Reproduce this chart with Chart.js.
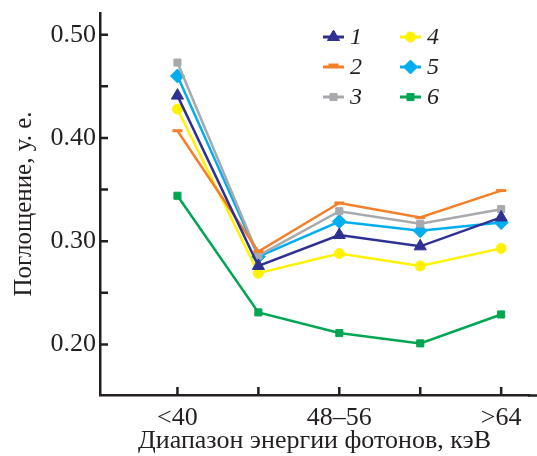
<!DOCTYPE html>
<html>
<head>
<meta charset="utf-8">
<script src="https://cdn.jsdelivr.net/npm/chart.js@4/dist/chart.umd.min.js"></script>
<style>
  html, body { margin: 0; padding: 0; background: #fff; }
  #wrap { width: 537px; height: 456px; }
</style>
</head>
<body>
<div id="wrap"><canvas id="chart" width="537" height="456"></canvas></div>
<script>
// категории по оси X (диапазоны энергии), подписаны только 1-я, 3-я и 5-я
const categories = ['<40', '40–48', '48–56', '56–64', '>64'];
const xTickLabels = ['<40', '', '48–56', '', '>64'];
const yTicks = [0.20, 0.25, 0.30, 0.35, 0.40, 0.45, 0.50];
const yTickLabels = ['0.20', '', '0.30', '', '0.40', '', '0.50'];

const seriesNames = ['1', '2', '3', '4', '5', '6'];
const s1 = [0.441, 0.276, 0.306, 0.295, 0.323];
const s2 = [0.407, 0.290, 0.337, 0.323, 0.349];
const s3 = [0.473, 0.286, 0.329, 0.317, 0.331];
const s4 = [0.428, 0.269, 0.288, 0.276, 0.293];
const s5 = [0.460, 0.285, 0.319, 0.310, 0.318];
const s6 = [0.344, 0.231, 0.211, 0.201, 0.229];

const colors = ['#2e3192', '#f47f2a', '#a7a9ac', '#fff200', '#00aeef', '#00a651'];
const markers = ['triangle', 'line', 'rect', 'circle', 'rectRot', 'rect'];
const markerSize = [7, 5, 5, 5, 7, 5];

const axisColor = '#231f20';
const serif = '"Liberation Serif", "Times New Roman", serif';

const allSeries = [s1, s2, s3, s4, s5, s6];
const datasets = allSeries.map((vals, i) => ({
  label: seriesNames[i],
  data: vals.map((v, k) => ({ x: k, y: v })),
  borderColor: colors[i],
  backgroundColor: colors[i],
  borderWidth: 2.5,
  pointStyle: markers[i],
  pointRadius: markerSize[i],
  pointBorderWidth: markers[i] === 'line' ? 3 : 1,
  pointBorderColor: colors[i],
  pointBackgroundColor: colors[i],
  tension: 0,
  fill: false
}));

// короткие засечки внутрь области графика + ось X до края
const innerTicks = {
  id: 'innerTicks',
  afterDraw(chart) {
    const ctx = chart.ctx;
    const xs = chart.scales.x, ys = chart.scales.y;
    const area = chart.chartArea;
    ctx.save();
    ctx.strokeStyle = axisColor;
    ctx.lineWidth = 2.5;
    ctx.beginPath();
    xs.ticks.forEach(t => {
      const px = xs.getPixelForValue(t.value);
      ctx.moveTo(px, area.bottom);
      ctx.lineTo(px, area.bottom - 8);
    });
    ys.ticks.forEach(t => {
      const py = ys.getPixelForValue(t.value);
      ctx.moveTo(area.left, py);
      ctx.lineTo(area.left + 8, py);
    });
    ctx.moveTo(area.right - 1, area.bottom + 0.5);
    ctx.lineTo(chart.width, area.bottom + 0.5);
    ctx.stroke();
    ctx.restore();
  }
};

// легенда в две колонки: линия + маркер + курсивный номер
const lineLegend = {
  id: 'lineLegend',
  afterDraw(chart) {
    const ctx = chart.ctx;
    const cols = [323, 400];
    const rows = [37, 67, 97];
    ctx.save();
    chart.data.datasets.forEach((ds, i) => {
      const x0 = cols[Math.floor(i / 3)];
      const y0 = rows[i % 3];
      ctx.strokeStyle = ds.borderColor;
      ctx.fillStyle = ds.backgroundColor;
      ctx.lineWidth = 3;
      ctx.beginPath();
      ctx.moveTo(x0, y0);
      ctx.lineTo(x0 + 21, y0);
      ctx.stroke();
      ctx.lineWidth = ds.pointBorderWidth;
      Chart.helpers.drawPoint(ctx, {
        pointStyle: ds.pointStyle,
        radius: ds.pointRadius,
        borderWidth: ds.pointBorderWidth,
        rotation: 0
      }, x0 + 10.5, ds.pointStyle === 'line' ? y0 - 2 : y0);
      ctx.fillStyle = '#231f20';
      ctx.font = 'italic 24px ' + serif;
      ctx.textBaseline = 'middle';
      ctx.textAlign = 'left';
      ctx.fillText(ds.label, x0 + 27, y0 + 1);
    });
    ctx.restore();
  }
};

new Chart(document.getElementById('chart'), {
  type: 'line',
  data: { datasets },
  plugins: [innerTicks, lineLegend],
  options: {
    responsive: false,
    animation: false,
    layout: { padding: { top: 13, right: 0, left: 0, bottom: 0 } },
    plugins: { legend: { display: false }, tooltip: { enabled: false } },
    scales: {
      x: {
        type: 'linear',
        min: -0.957,
        max: 4.344,
        afterFit: s => { s.height = 61; s.paddingLeft = 0; s.paddingRight = 0; },
        afterBuildTicks: s => { s.ticks = categories.map((c, k) => ({ value: k })); },
        grid: { drawOnChartArea: false, drawTicks: false },
        border: { color: axisColor, width: 2.5 },
        ticks: {
          color: axisColor,
          padding: 8,
          maxRotation: 0,
          autoSkip: false,
          font: { family: serif, size: 26 },
          callback: v => xTickLabels[v]
        },
        title: {
          display: true,
          text: 'Диапазон энергии фотонов, кэВ',
          color: axisColor,
          font: { family: serif, size: 26, lineHeight: 1.15 },
          padding: { top: 0, bottom: 0 }
        }
      },
      y: {
        min: 0.151,
        max: 0.521,
        afterFit: s => { s.width = 100; s.paddingTop = 0; s.paddingBottom = 0; },
        afterBuildTicks: s => { s.ticks = yTicks.map(v => ({ value: v })); },
        grid: { drawOnChartArea: false, drawTicks: false },
        border: { color: axisColor, width: 2.5 },
        ticks: {
          color: axisColor,
          padding: 4,
          autoSkip: false,
          font: { family: serif, size: 26 },
          callback: (v, idx) => yTickLabels[idx]
        },
        title: {
          display: true,
          text: 'Поглощение, у. е.',
          color: axisColor,
          font: { family: serif, size: 25, lineHeight: 1.15 },
          padding: { top: 10, bottom: 0 }
        }
      }
    }
  }
});
</script>
</body>
</html>
